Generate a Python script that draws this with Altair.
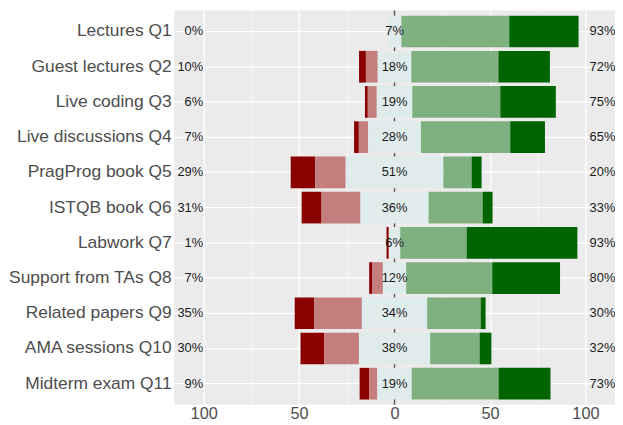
import altair as alt
import pandas as pd

items = ["Lectures Q1", "Guest lectures Q2", "Live coding Q3", "Live discussions Q4",
         "PragProg book Q5", "ISTQB book Q6", "Labwork Q7", "Support from TAs Q8",
         "Related papers Q9", "AMA sessions Q10", "Midterm exam Q11"]

strongly_disagree = [0.0, 3.6, 1.5, 2.5, 12.9, 10.4, 1.2, 1.5, 10.3, 12.4, 5.1]
disagree          = [0.0, 6.2, 4.7, 4.9, 15.9, 20.4, 0.0, 5.7, 24.9, 18.2, 4.2]
neutral           = [7.2, 17.6, 18.6, 27.6, 51.2, 35.7, 6.0, 12.2, 34.2, 37.3, 18.0]
agree             = [56.5, 45.6, 46.1, 46.8, 14.8, 28.3, 34.8, 45.1, 28.0, 25.9, 45.5]
strongly_agree    = [36.3, 27.0, 29.1, 18.2, 5.2, 5.2, 58.0, 35.5, 2.6, 6.2, 27.2]

low_pct     = [0, 10, 6, 7, 29, 31, 1, 7, 35, 30, 9]
neutral_pct = [7, 18, 19, 28, 51, 36, 6, 12, 34, 38, 19]
high_pct    = [93, 72, 75, 65, 20, 33, 93, 80, 30, 32, 73]

levels = ["Strongly disagree", "Disagree", "Neutral", "Agree", "Strongly agree"]
colors = ["#8B0000", "#C47E7E", "#E0ECEC", "#7FB07F", "#006400"]

rows = []
for i, it in enumerate(items):
    h = neutral[i] / 2
    segs = [
        ("Strongly disagree", -h - disagree[i] - strongly_disagree[i], -h - disagree[i]),
        ("Disagree", -h - disagree[i], -h),
        ("Neutral", -h, h),
        ("Agree", h, h + agree[i]),
        ("Strongly agree", h + agree[i], h + agree[i] + strongly_agree[i]),
    ]
    for lev, s, e in segs:
        rows.append({"item": it, "level": lev, "start": s, "end": e})
bars_df = pd.DataFrame(rows)

labels_df = pd.DataFrame({
    "item": items,
    "low": [f"{v}%" for v in low_pct],
    "mid": [f"{v}%" for v in neutral_pct],
    "high": [f"{v}%" for v in high_pct],
})

FONT = "Liberation Sans"
xscale = alt.Scale(domain=[-115.5, 115.5], nice=False, zero=False)
yscale = alt.Scale(domain=items, paddingInner=0.1, paddingOuter=0.15)

x_axis = alt.Axis(
    values=[-100, -75, -50, -25, 0, 25, 50, 75, 100],
    labelExpr="datum.value % 50 === 0 ? format(abs(datum.value), 'd') : ''",
    grid=True, gridColor="white",
    gridWidth={"condition": {"test": "datum.value % 50 === 0", "value": 1.3}, "value": 0.6},
    domain=False, ticks=False, labelFontSize=16.5, labelColor="#4D4D4D",
    labelFont=FONT, labelPadding=1, title=None,
)
y_axis = alt.Axis(
    grid=True, gridColor="white", gridWidth=1.3, bandPosition=0.5,
    domain=False, ticks=False, labelFontSize=17.6, labelColor="#4D4D4D",
    labelFont=FONT, labelPadding=3, labelLimit=400, title=None,
)

zero_line = alt.Chart(pd.DataFrame({"z": [0]})).mark_rule(
    color="#555555", strokeWidth=1.5
).encode(x=alt.X("z:Q", scale=xscale, axis=x_axis))

bars = alt.Chart(bars_df).mark_bar().encode(
    x=alt.X("start:Q", scale=xscale, axis=x_axis),
    x2="end:Q",
    y=alt.Y("item:N", sort=items, scale=yscale, axis=y_axis),
    color=alt.Color("level:N", scale=alt.Scale(domain=levels, range=colors), legend=None),
)

base_txt = alt.Chart(labels_df)
low_txt = base_txt.mark_text(align="right", baseline="middle", fontSize=13,
                             font=FONT, color="#1A1A1A").encode(
    x=alt.datum(-100.3), y=alt.Y("item:N", sort=items, scale=yscale), text="low:N")
mid_txt = base_txt.mark_text(align="center", baseline="middle", fontSize=13,
                             font=FONT, color="#1A1A1A").encode(
    x=alt.datum(0), y=alt.Y("item:N", sort=items, scale=yscale), text="mid:N")
high_txt = base_txt.mark_text(align="left", baseline="middle", fontSize=13,
                              font=FONT, color="#1A1A1A").encode(
    x=alt.datum(102.2), y=alt.Y("item:N", sort=items, scale=yscale), text="high:N")

chart = alt.layer(zero_line, bars, low_txt, mid_txt, high_txt).properties(
    width=446, height=399,
    autosize=alt.AutoSizeParams(type="none"),
    padding={"left": 168, "top": 0, "right": 0, "bottom": 18},
).configure_view(fill="#EBEBEB", stroke=None)

chart.save("out.html", embed_options={"renderer": "svg", "actions": False})
